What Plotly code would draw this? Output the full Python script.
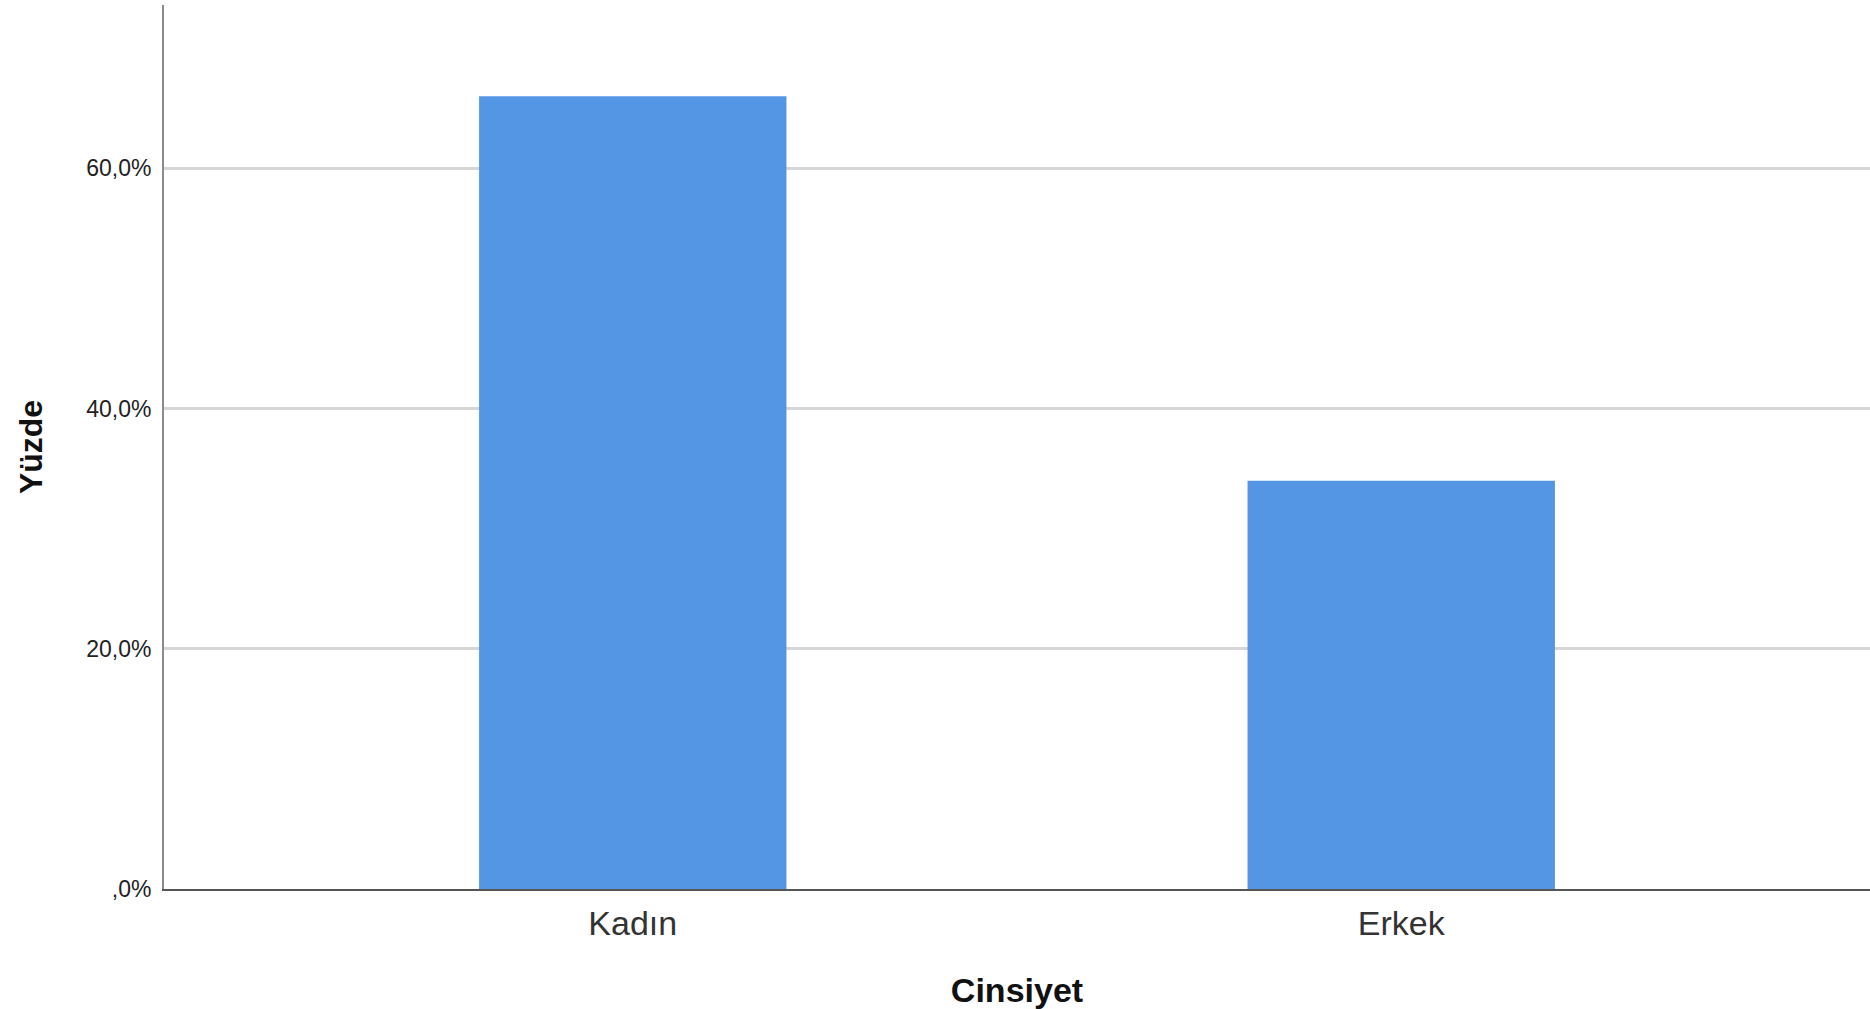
import plotly.graph_objects as go

categories = ["Kadın", "Erkek"]
percentages = [66.0, 34.0]
y_tick_values = [0, 20, 40, 60]
y_tick_labels = [",0%", "20,0%", "40,0%", "60,0%"]

fig = go.Figure()
fig.add_trace(go.Bar(
    x=list(range(len(categories))),
    y=percentages,
    width=0.4,
    marker=dict(color="#5596e4", line=dict(width=0)),
    hoverinfo="skip",
))

fig.update_layout(
    width=1870,
    height=1009,
    margin=dict(l=164, r=0, t=5, b=120),
    paper_bgcolor="white",
    plot_bgcolor="white",
    showlegend=False,
    font=dict(family="Liberation Sans, Arial, sans-serif", color="#222222"),
    xaxis=dict(
        range=[-0.61, 1.61],
        tickmode="array",
        tickvals=list(range(len(categories))),
        ticktext=categories,
        tickfont=dict(size=34, color="#333333"),
        ticklabelstandoff=3,
        showline=True,
        linecolor="#555555",
        linewidth=2,
        showgrid=False,
        zeroline=False,
        ticks="",
        title=dict(text="<b>Cinsiyet</b>", font=dict(size=34, color="#111111"), standoff=40),
    ),
    yaxis=dict(
        range=[0, 73.6],
        tickmode="array",
        tickvals=y_tick_values,
        ticktext=y_tick_labels,
        tickfont=dict(size=23, color="#222222"),
        ticklabelstandoff=6,
        showline=True,
        linecolor="#8a8a8a",
        linewidth=2,
        showgrid=True,
        gridcolor="#d6d6d6",
        gridwidth=2.5,
        zeroline=False,
        ticks="",
        title=dict(text="<b>Yüzde</b>", font=dict(size=32, color="#111111"), standoff=34),
    ),
)

fig.write_html(
    "out.html",
    config={"displayModeBar": False},
    post_script="document.body.style.margin='0';document.body.style.overflow='hidden';",
)
